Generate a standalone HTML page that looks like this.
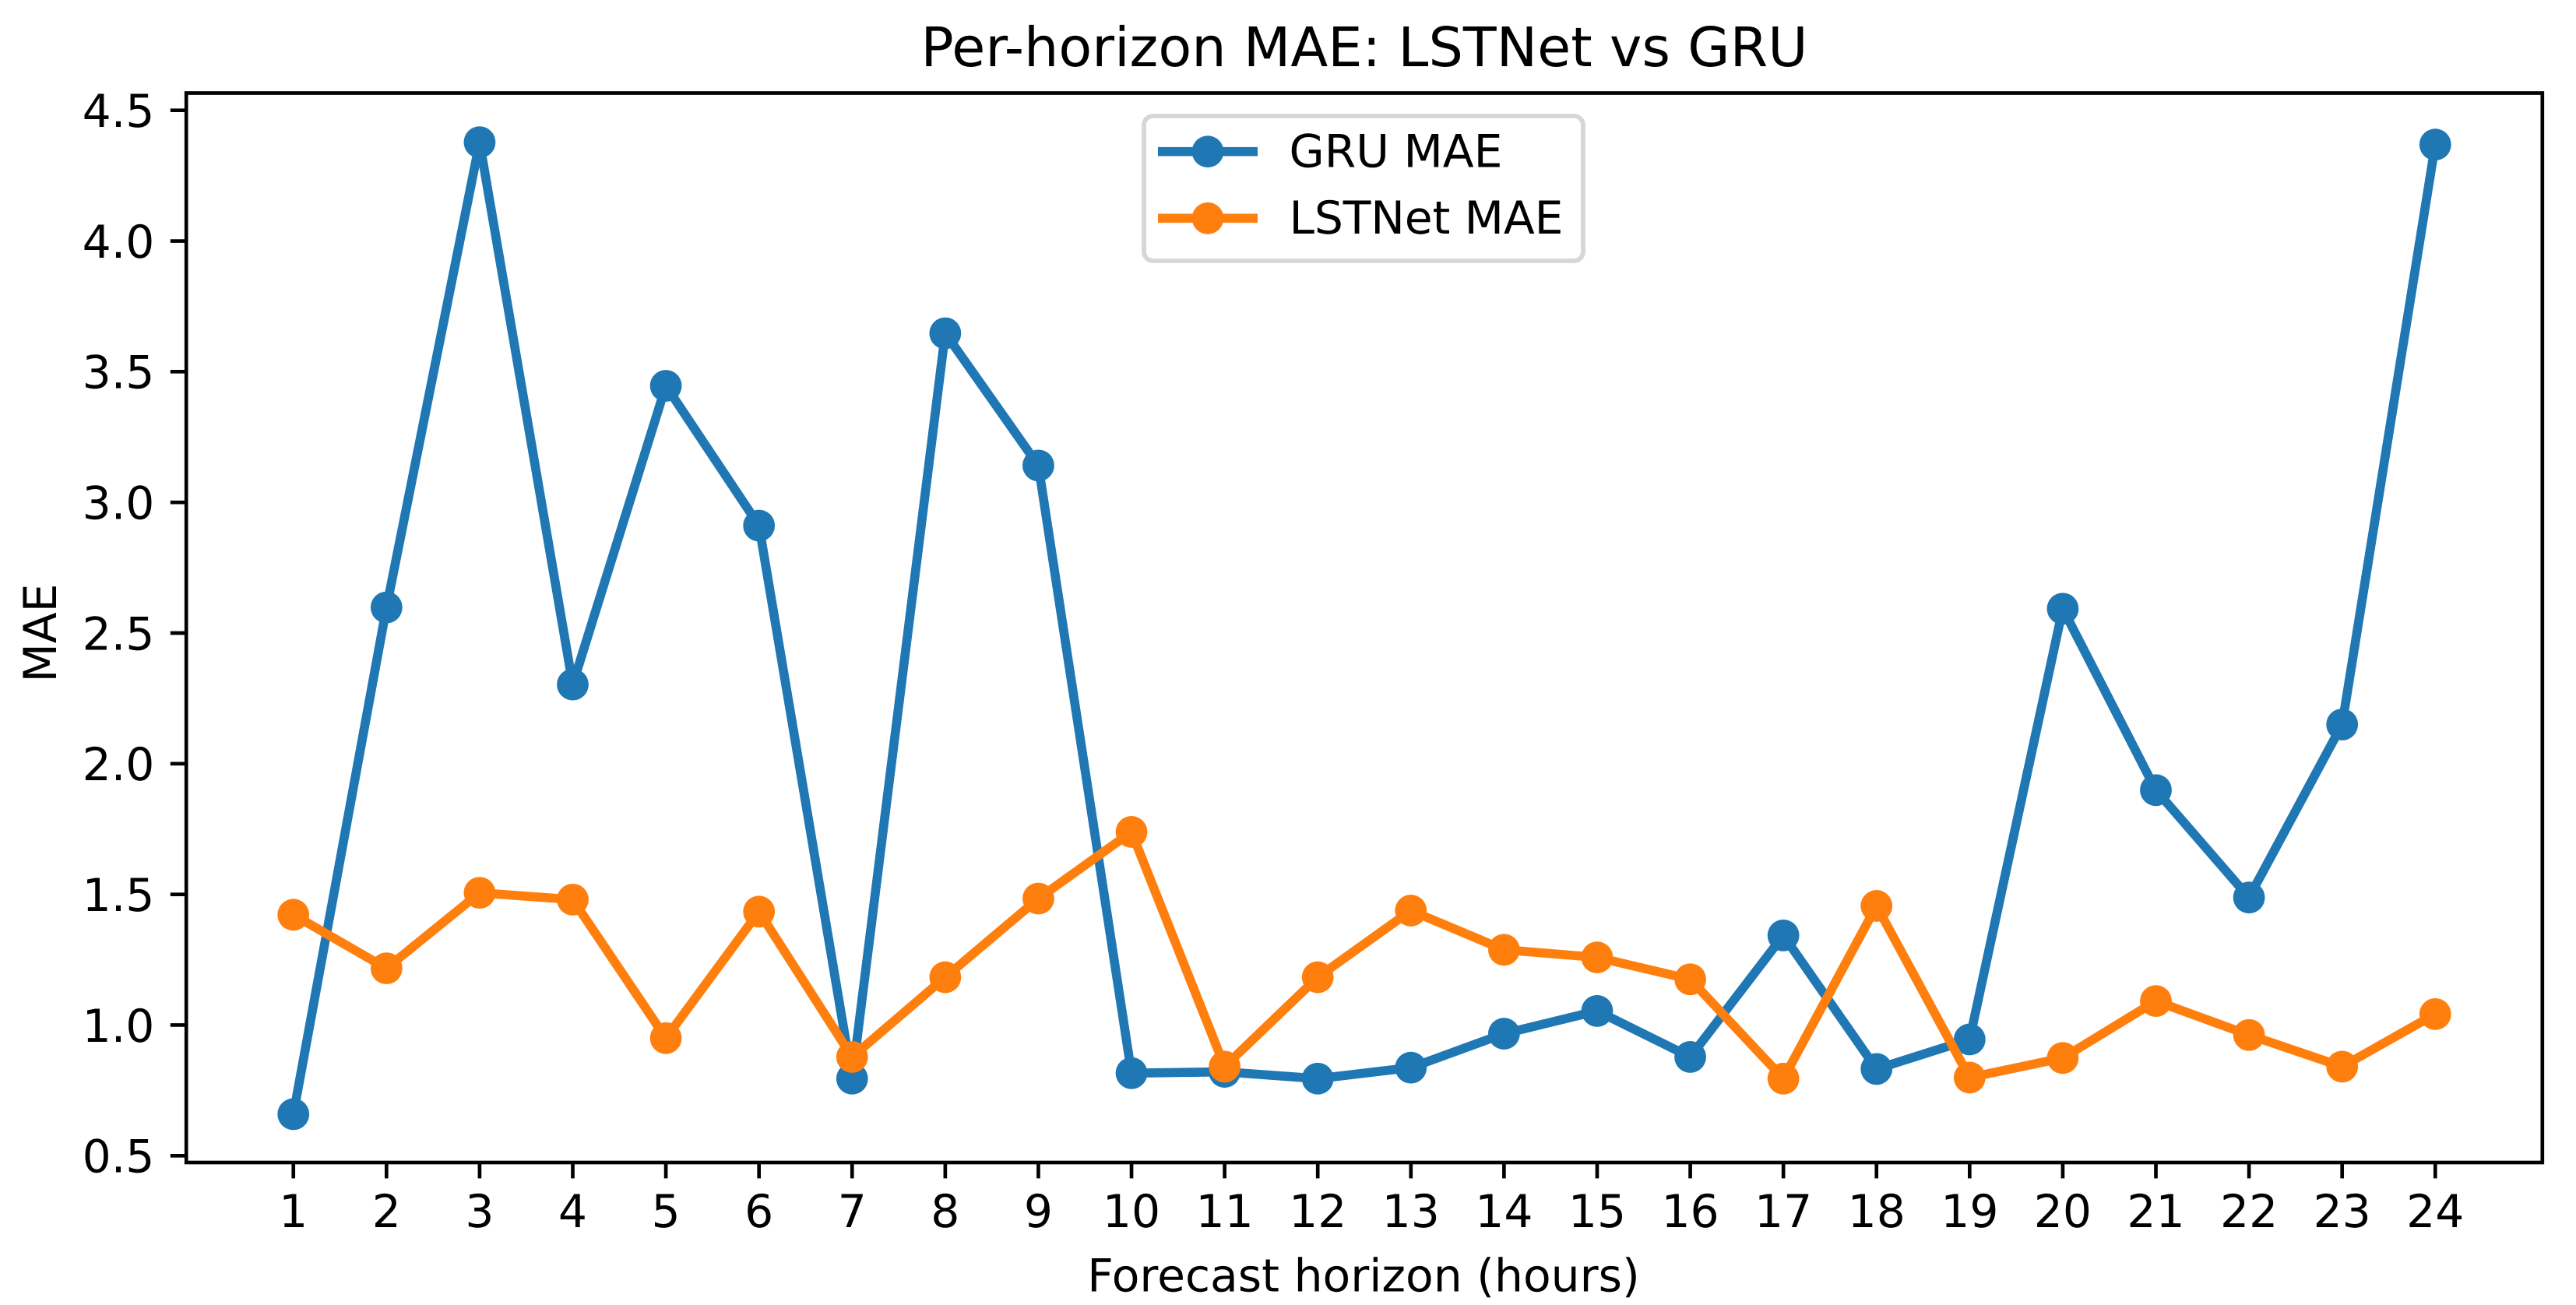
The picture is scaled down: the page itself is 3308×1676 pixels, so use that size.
<!DOCTYPE html>
<html lang="en">
<head>
<meta charset="utf-8">
<title>Per-horizon MAE: LSTNet vs GRU</title>
<style>
  html, body { margin: 0; padding: 0; background: #ffffff; }
  svg { display: block; }
  text { font-family: "DejaVu Sans", "Liberation Sans", sans-serif; fill: #000000; text-rendering: geometricPrecision; }
</style>
</head>
<body>
<svg id="chart" xmlns="http://www.w3.org/2000/svg" width="3308" height="1676" viewBox="0 0 3308 1676">
  <rect x="0" y="0" width="3308" height="1676" fill="#ffffff"/>
  <g id="ticks"></g>
  <g id="series"></g>
  <rect x="239.2" y="119.5" width="3025.6" height="1373.5" fill="none" stroke="#000000" stroke-width="4.67"/>
  <text x="1752" y="85" font-size="70" text-anchor="middle" textLength="1139" lengthAdjust="spacing">Per-horizon MAE: LSTNet vs GRU</text>
  <text x="1751" y="1658.3" font-size="58.33" text-anchor="middle">Forecast horizon (hours)</text>
  <text x="0" y="0" font-size="58.33" text-anchor="middle" transform="translate(72 813) rotate(-90)">MAE</text>
  <g>
    <rect x="1469" y="149" width="564" height="186" rx="11.7" ry="11.7" fill="#ffffff" fill-opacity="0.8" stroke="#cccccc" stroke-opacity="0.8" stroke-width="5.83"/>
    <g>
      <line x1="1487" y1="194.7" x2="1615" y2="194.7" stroke="#1f77b4" stroke-width="11.67"/>
      <circle cx="1551" cy="194.7" r="20.4" fill="#1f77b4"/>
      <text x="1655.5" y="214.5" font-size="58.33">GRU MAE</text>
    </g>
    <g>
      <line x1="1487" y1="280.3" x2="1615" y2="280.3" stroke="#ff7f0e" stroke-width="11.67"/>
      <circle cx="1551" cy="280.3" r="20.4" fill="#ff7f0e"/>
      <text x="1655.5" y="300" font-size="58.33" textLength="352" lengthAdjust="spacing">LSTNet MAE</text>
    </g>
  </g>
</svg>
<script>
const horizons = [1, 2, 3, 4, 5, 6, 7, 8, 9, 10, 11, 12, 13, 14, 15, 16, 17, 18, 19, 20, 21, 22, 23, 24];
const gruMae = [0.659, 2.598, 4.378, 2.303, 3.446, 2.911, 0.795, 3.647, 3.141, 0.816, 0.821, 0.795, 0.837, 0.967, 1.054, 0.878, 1.343, 0.832, 0.945, 2.593, 1.899, 1.488, 2.150, 4.369];
const lstnetMae = [1.422, 1.217, 1.506, 1.480, 0.950, 1.434, 0.878, 1.183, 1.484, 1.739, 0.841, 1.183, 1.438, 1.288, 1.259, 1.175, 0.795, 1.456, 0.799, 0.874, 1.092, 0.962, 0.841, 1.042];
const yTickLabels = ["0.5", "1.0", "1.5", "2.0", "2.5", "3.0", "3.5", "4.0", "4.5"];

const SVG_NS = "http://www.w3.org/2000/svg";
const plotLeft = 239.2, plotRight = 3264.8, plotTop = 119.5, plotBottom = 1493;
const xMin = Math.min.apply(null, horizons), xMax = Math.max.apply(null, horizons);
const xPad = (xMax - xMin) * 0.05;
const yDomainLow = 0.5, yDomainHigh = 4.5;
const yPixelLow = 1484.3, yPixelHigh = 141.7;

function xScale(v) {
  return plotLeft + (v - (xMin - xPad)) / ((xMax + xPad) - (xMin - xPad)) * (plotRight - plotLeft);
}
function yScale(v) {
  return yPixelLow + (v - yDomainLow) / (yDomainHigh - yDomainLow) * (yPixelHigh - yPixelLow);
}
function make(tag, parent) {
  const node = document.createElementNS(SVG_NS, tag);
  parent.appendChild(node);
  return node;
}

const ticksGroup = document.getElementById("ticks");
const seriesGroup = document.getElementById("series");

horizons.forEach(function (h) {
  const px = xScale(h);
  const tick = make("line", ticksGroup);
  
  
  tick.setAttribute("x1", px);
  tick.setAttribute("x2", px);
  tick.setAttribute("y1", plotBottom);
  tick.setAttribute("y2", plotBottom + 20.4);
  tick.setAttribute("stroke", "#000000");
  tick.setAttribute("stroke-width", 4.67);
  const label = make("text", ticksGroup);
  
  
  label.setAttribute("x", px);
  label.setAttribute("y", 1576);
  label.setAttribute("font-size", 58.33);
  label.setAttribute("text-anchor", "middle");
  label.textContent = String(h);
});

yTickLabels.forEach(function (t) {
  const py = yScale(parseFloat(t));
  const tick = make("line", ticksGroup);
  
  
  tick.setAttribute("x1", plotLeft - 20.4);
  tick.setAttribute("x2", plotLeft);
  tick.setAttribute("y1", py);
  tick.setAttribute("y2", py);
  tick.setAttribute("stroke", "#000000");
  tick.setAttribute("stroke-width", 4.67);
  const label = make("text", ticksGroup);
  
  
  label.setAttribute("x", 198.4);
  label.setAttribute("y", py + 21.3);
  label.setAttribute("font-size", 58.33);
  label.setAttribute("text-anchor", "end");
  label.textContent = t;
});

function pointsFor(values) {
  return values.map(function (v, i) {
    return xScale(horizons[i]).toFixed(2) + "," + yScale(v).toFixed(2);
  }).join(" ");
}

const gruLine = make("polyline", seriesGroup);


gruLine.setAttribute("points", pointsFor(gruMae));
gruLine.setAttribute("fill", "none");
gruLine.setAttribute("stroke", "#1f77b4");
gruLine.setAttribute("stroke-width", 11.67);
gruLine.setAttribute("stroke-linejoin", "round");

gruMae.forEach(function (v, i) {
  const dot = make("circle", seriesGroup);
  
  
  dot.setAttribute("cx", xScale(horizons[i]));
  dot.setAttribute("cy", yScale(v));
  dot.setAttribute("r", 20.4);
  dot.setAttribute("fill", "#1f77b4");
});

const lstnetLine = make("polyline", seriesGroup);


lstnetLine.setAttribute("points", pointsFor(lstnetMae));
lstnetLine.setAttribute("fill", "none");
lstnetLine.setAttribute("stroke", "#ff7f0e");
lstnetLine.setAttribute("stroke-width", 11.67);
lstnetLine.setAttribute("stroke-linejoin", "round");

lstnetMae.forEach(function (v, i) {
  const dot = make("circle", seriesGroup);
  
  
  dot.setAttribute("cx", xScale(horizons[i]));
  dot.setAttribute("cy", yScale(v));
  dot.setAttribute("r", 20.4);
  dot.setAttribute("fill", "#ff7f0e");
});
</script>
</body>
</html>
